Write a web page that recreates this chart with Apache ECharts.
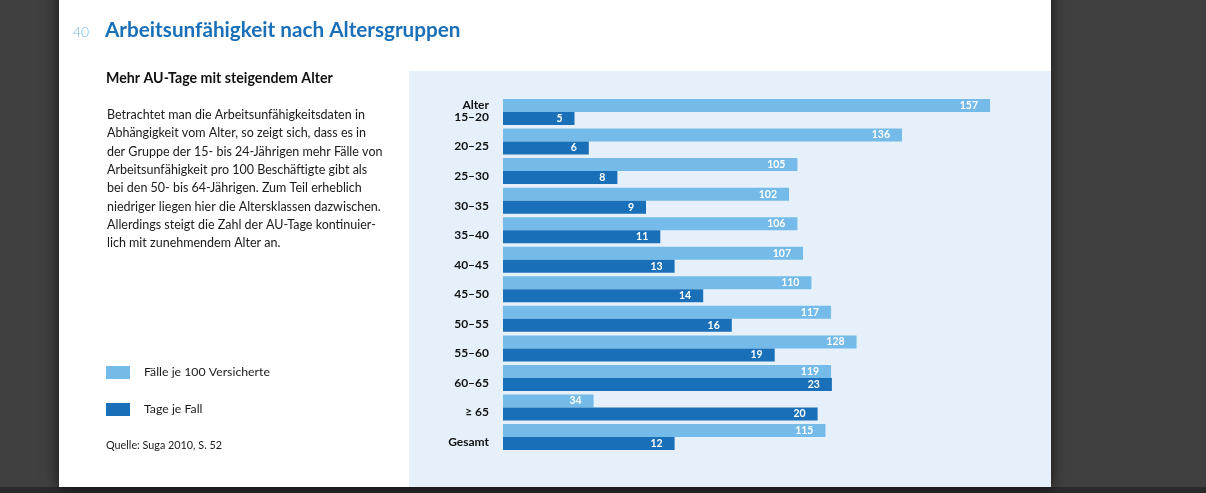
<!DOCTYPE html>
<html><head><meta charset="utf-8">
<style>html,body{margin:0;padding:0;background:#404040;overflow:hidden}#c{width:1206px;height:493px}</style>
<script src="https://cdn.jsdelivr.net/npm/echarts@6/dist/echarts.min.js"></script>
</head><body><div id="c"></div>
<script>
const categories = ['15–20','20–25','25–30','30–35','35–40','40–45','45–50','50–55','55–60','60–65','≥ 65','Gesamt'];
// printed values
const faelleLabels = [157,136,105,102,106,107,110,117,128,119,34,115];
const tageLabels   = [5,6,8,9,11,13,14,16,19,23,20,12];
// drawn bar lengths (the original bars deviate from the printed values)
const faelleDrawn  = [173.7,142.3,105,102,105,107,110,117,126.1,117,32.3,115];
const tageDrawn    = [5,6,8,10,11,12,14,16,19,23,22,12];
const bodyLines = ['Betrachtet man die Arbeitsunfähigkeitsdaten in','Abhängigkeit vom Alter, so zeigt sich, dass es in','der Gruppe der 15- bis 24-Jährigen mehr Fälle von','Arbeitsunfähigkeit pro 100 Beschäftigte gibt als','bei den 50- bis 64-Jährigen. Zum Teil erheblich','niedriger liegen hier die Altersklassen dazwischen.','Allerdings steigt die Zahl der AU-Tage kontinuier-','lich mit zunehmendem Alter an.'];
const F = 'Lato, "Noto Sans", sans-serif';
const LIGHT='#74bbea', DARK='#1a70b8';
const barLabel = arr => ({show:true,position:'insideRight',distance:12,color:'#fff',fontFamily:F,fontWeight:'bold',fontSize:10.5,
  formatter:p=>arr[p.dataIndex]});
const chart = echarts.init(document.getElementById('c'),null,{renderer:'canvas'});
chart.setOption({
  animation:false,
  backgroundColor:'#404040',
  title:{text:'Arbeitsunfähigkeit nach Altersgruppen',left:105,top:20,padding:0,textStyle:{color:'#1a70b8',fontFamily:F,fontWeight:'bold',fontSize:20.7}},
  legend:{orient:'vertical',left:106,top:366,padding:0,itemWidth:24,itemHeight:13,itemGap:24,itemStyle:{borderWidth:0},icon:'rect',
    textStyle:{color:'#1a1a1a',fontFamily:F,fontSize:12.3,padding:[0,0,0,9]},data:['Fälle je 100 Versicherte','Tage je Fall']},
  grid:{left:503,top:97.2,width:572,height:354.6,containLabel:false},
  xAxis:[{type:'value',min:0,max:204,show:false},{type:'value',min:0,max:40,show:false}],
  yAxis:{type:'category',inverse:true,data:categories,axisLine:{show:false},axisTick:{show:false},splitLine:{show:false},
    axisLabel:{color:'#111',fontFamily:F,fontWeight:'bold',fontSize:12,margin:14,verticalAlign:'top',lineHeight:10}},
  series:[
    {name:'Fälle je 100 Versicherte',type:'bar',xAxisIndex:0,data:faelleDrawn,barWidth:13,barGap:0,itemStyle:{color:LIGHT},label:barLabel(faelleLabels)},
    {name:'Tage je Fall',type:'bar',xAxisIndex:1,data:tageDrawn,barWidth:13,barGap:0,itemStyle:{color:DARK},label:barLabel(tageLabels)}
  ],
  graphic:[
    {type:'rect',z:-20,silent:true,shape:{x:59,y:-20,width:992,height:507},style:{fill:'#fff',shadowBlur:14,shadowColor:'rgba(0,0,0,0.7)'}},
    {type:'rect',z:-19,silent:true,shape:{x:409,y:71,width:642,height:416},style:{fill:'#e6f0fa'}},
    {type:'rect',z:-21,silent:true,shape:{x:0,y:487,width:1206,height:6},style:{fill:'#2a2a2a'}},
    {type:'text',left:73,top:25,style:{text:'40',fill:'#74bbea',font:'300 14px '+F}},
    {type:'text',left:106,top:71,style:{text:'Mehr AU-Tage mit steigendem Alter',fill:'#111',font:'bold 14.2px '+F}},
    ...bodyLines.map((t,i)=>({type:'text',left:107,top:108.5+i*18.3,style:{text:t,fill:'#1a1a1a',font:'12.5px '+F}})),
    {type:'text',left:106,top:440,style:{text:'Quelle: Suga 2010, S. 52',fill:'#1a1a1a',font:'10.8px '+F}},
    {type:'text',right:1206-489,top:99,style:{text:'Alter',fill:'#111',font:'bold 12px '+F}}
  ]
});
</script></body></html>
